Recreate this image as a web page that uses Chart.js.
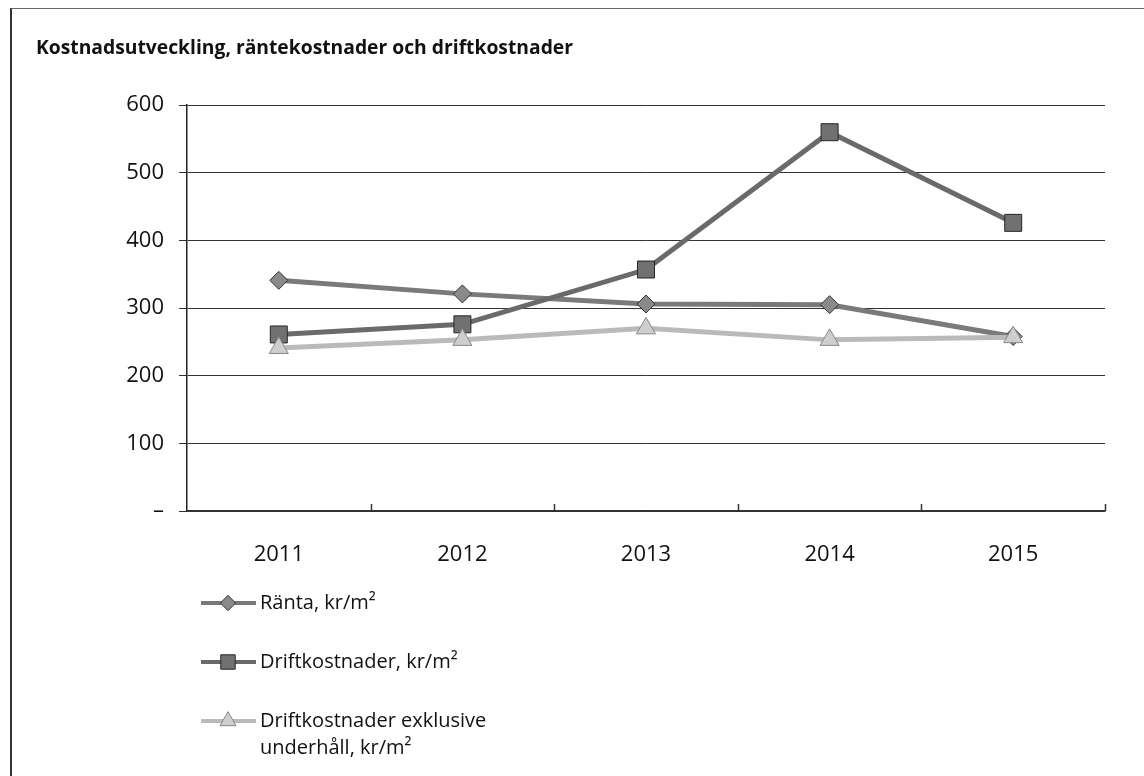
<!DOCTYPE html>
<html>
<head>
<meta charset="utf-8">
<script src="https://cdn.jsdelivr.net/npm/chart.js@4.4.0/dist/chart.umd.min.js"></script>
<style>
    html, body { margin: 0; padding: 0; background: #fff; }
    #ram { position: absolute; left: 10px; top: 8px; width: 1134px; height: 768px;
           border-left: 2px solid #333; border-top: 1px solid #666; }
    #wrap { position: absolute; left: 0; top: 0; width: 1144px; height: 776px; }
</style>
</head>
<body>
<div id="ram"></div>
<div id="wrap"><canvas id="grafico"></canvas></div>
<script>
// Data
const ar = ['2011', '2012', '2013', '2014', '2015'];
const ranta = [341, 321, 306, 305, 258];
const drift = [261, 276, 357, 560, 426];
const driftExkl = [241, 253, 270, 253, 257];
const yTicks = [0, 100, 200, 300, 400, 500, 600];

const serier = [
    { label: ['Ränta, kr/m²'], data: ranta, line: '#7a7a7a', fill: '#8a8a8a', edge: '#333', style: 'rectRot', r: 9, order: 3 },
    { label: ['Driftkostnader, kr/m²'], data: drift, line: '#6a6a6a', fill: '#717171', edge: '#262626', style: 'rect', r: 12, order: 2 },
    { label: ['Driftkostnader exklusive', 'underhåll, kr/m²'], data: driftExkl, line: '#bababa', fill: '#cecece', edge: '#888', style: 'triangle', r: 11, order: 1 }
];

const font = "'Open Sans', 'Noto Sans', sans-serif";

// ticks on x axis pointing up + legend at the bottom
const extraPlugin = {
    id: 'extra',
    afterDraw(chart) {
        const ctx = chart.ctx;
        const x = chart.scales.x;
        const area = chart.chartArea;
        const step = x.getPixelForValue(1) - x.getPixelForValue(0);
        ctx.save();
        ctx.strokeStyle = '#333';
        ctx.lineWidth = 1.5;
        for (let i = 0; i < ar.length; i++) {
            const px = Math.round(x.getPixelForValue(i) + step / 2) + 0.5;
            ctx.beginPath();
            ctx.moveTo(px, area.bottom);
            ctx.lineTo(px, area.bottom - 7);
            ctx.stroke();
        }

        const rader = [603, 662, 721];
        ctx.font = '20px ' + font;
        ctx.textBaseline = 'middle';
        serier.forEach((s, i) => {
            const y = rader[i];
            ctx.strokeStyle = s.line;
            ctx.lineWidth = 4;
            ctx.beginPath();
            ctx.moveTo(201, y);
            ctx.lineTo(256, y);
            ctx.stroke();
            ctx.fillStyle = s.fill;
            ctx.strokeStyle = s.edge;
            ctx.lineWidth = 1;
            Chart.helpers.drawPoint(ctx, { pointStyle: s.style, radius: s.r * 0.85, borderWidth: 1 }, 228, y);
            ctx.fillStyle = '#111';
            s.label.forEach((t, j) => ctx.fillText(t, 260, y + j * 27));
        });
        ctx.restore();
    }
};

const ctx = document.getElementById('grafico').getContext('2d');
new Chart(ctx, {
    type: 'line',
    data: {
        labels: ar,
        datasets: serier.map(s => ({
            label: s.label.join(' '),
            data: s.data,
            borderColor: s.line,
            borderWidth: 5,
            pointStyle: s.style,
            pointRadius: s.r,
            pointBackgroundColor: s.fill,
            pointBorderColor: s.edge,
            pointBorderWidth: 1,
            tension: 0,
            order: s.order
        }))
    },
    options: {
        responsive: true,
        maintainAspectRatio: false,
        animation: false,
        layout: { padding: { left: 36, right: 39, top: 10, bottom: 0 } },
        plugins: {
            legend: { display: false },
            tooltip: { enabled: false },
            title: {
                display: true,
                text: 'Kostnadsutveckling, räntekostnader och driftkostnader',
                align: 'start',
                color: '#111',
                font: { family: font, size: 19.3, weight: 'bold' },
                padding: { top: 27, bottom: 45 }
            }
        },
        scales: {
            x: {
                offset: true,
                grid: { display: false },
                border: { color: '#333', width: 1.5 },
                ticks: { color: '#111', padding: 23, font: { family: font, size: 22 } },
                afterFit(scale) { scale.height = 265; }
            },
            y: {
                min: 0,
                max: 600,
                afterBuildTicks(scale) { scale.ticks = yTicks.map(v => ({ value: v })); },
                grid: { color: '#333', lineWidth: 1, tickLength: 8 },
                border: { color: '#222', width: 1.5 },
                ticks: {
                    color: '#111',
                    padding: 15,
                    font: { family: font, size: 22 },
                    callback: v => v === 0 ? '–' : v
                },
                afterFit(scale) { scale.width = 151; }
            }
        }
    },
    plugins: [extraPlugin]
});
</script>
</body>
</html>
